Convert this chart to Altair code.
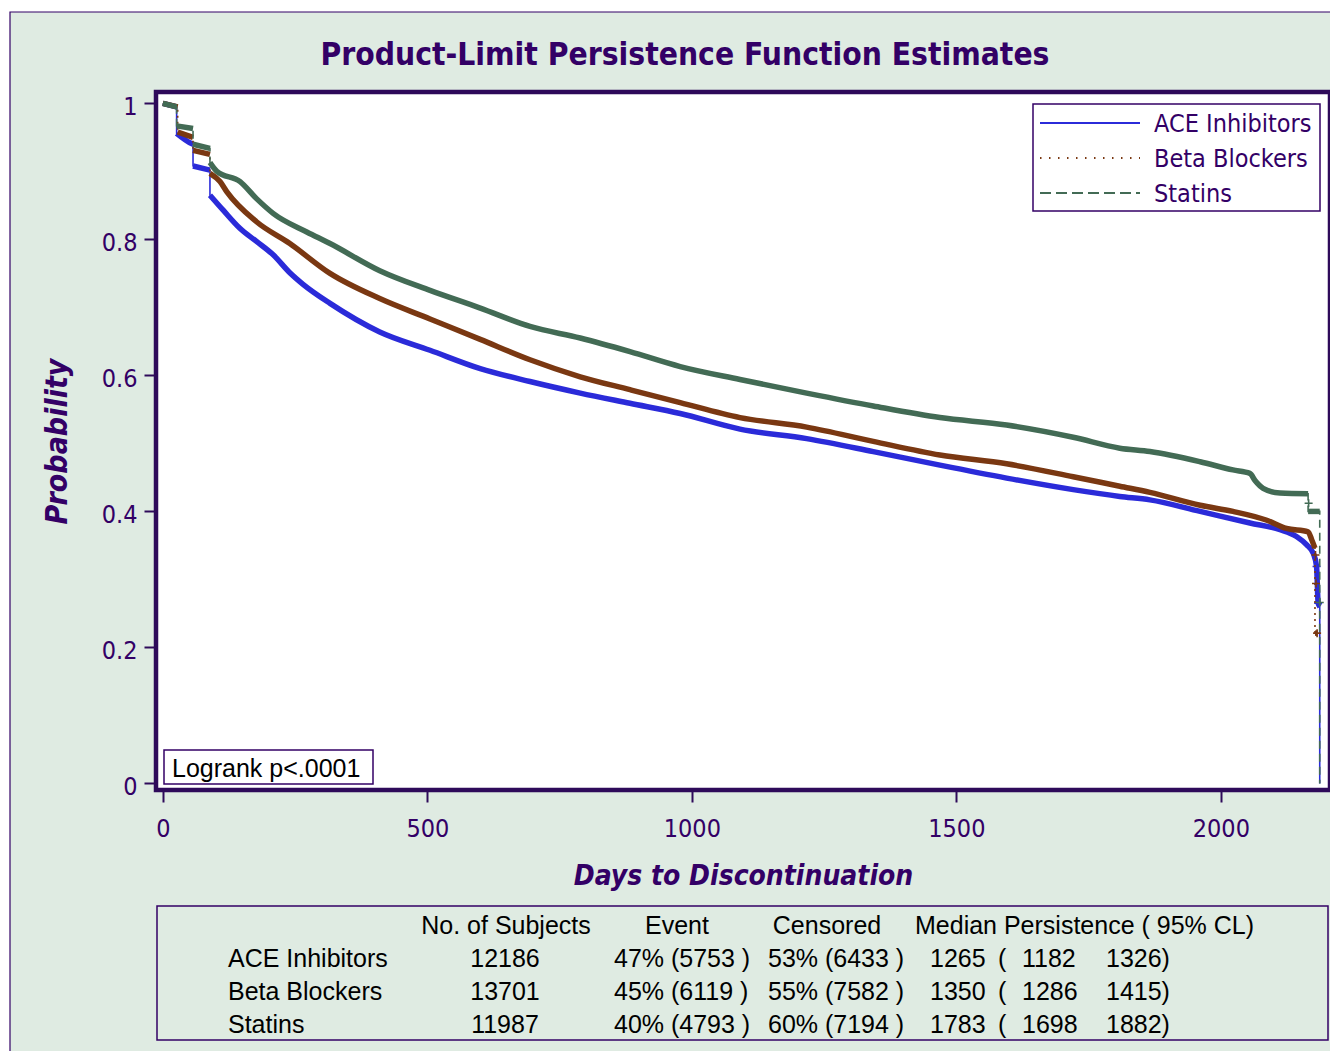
import altair as alt
import pandas as pd

# ---------------- data ----------------
series_names = ["ACE Inhibitors", "Beta Blockers", "Statins"]
series_colors = ["#2b2bd9", "#7a3812", "#436b55"]
series_dashes = [[1, 0], [2, 4], [8, 5]]
legend_dashes = [[1, 0], [1.5, 7.5], [11, 5]]

ace_days = [0, 26, 26, 54, 57, 57, 89, 89, 114, 146, 177, 209, 240, 265, 316, 410, 505, 600, 694, 789,
            883, 978, 1091, 1217, 1343, 1469, 1595, 1721, 1809, 1866, 1961, 2055, 2112, 2143, 2162, 2175,
            2181, 2184, 2187, 2187]
ace_surv = [1.0, 0.995, 0.956, 0.941, 0.940, 0.908, 0.902, 0.865, 0.843, 0.816, 0.797, 0.777, 0.751, 0.734,
            0.706, 0.664, 0.637, 0.610, 0.591, 0.574, 0.559, 0.544, 0.521, 0.507, 0.488, 0.468, 0.449, 0.432,
            0.422, 0.417, 0.400, 0.383, 0.373, 0.363, 0.351, 0.338, 0.319, 0.265, 0.260, 0.0]

bb_days = [0, 28, 28, 57, 57, 89, 89, 108, 121, 177, 240, 316, 410, 505, 600, 694, 789, 883, 978, 1091,
           1217, 1343, 1469, 1595, 1721, 1809, 1866, 1961, 2023, 2087, 2124, 2165, 2172, 2178, 2178, 2183]
bb_surv = [1.0, 0.995, 0.958, 0.950, 0.931, 0.925, 0.897, 0.885, 0.870, 0.826, 0.794, 0.750, 0.713, 0.683,
           0.653, 0.623, 0.598, 0.579, 0.560, 0.538, 0.524, 0.503, 0.483, 0.470, 0.451, 0.437, 0.428, 0.409,
           0.400, 0.387, 0.375, 0.370, 0.358, 0.346, 0.221, 0.221]

st_days = [0, 26, 26, 57, 57, 89, 89, 102, 146, 177, 209, 272, 316, 410, 505, 600, 694, 789, 883, 978,
           1091, 1217, 1343, 1469, 1595, 1721, 1809, 1866, 1961, 2023, 2055, 2065, 2080, 2112, 2165, 2165,
           2187, 2187]
st_surv = [1.0, 0.995, 0.967, 0.963, 0.940, 0.934, 0.913, 0.900, 0.885, 0.860, 0.838, 0.811, 0.794, 0.754,
           0.725, 0.699, 0.672, 0.655, 0.635, 0.613, 0.594, 0.574, 0.555, 0.538, 0.527, 0.509, 0.493, 0.488,
           0.473, 0.461, 0.456, 0.445, 0.434, 0.427, 0.426, 0.400, 0.400, 0.0]

cens_series = ["ACE Inhibitors", "ACE Inhibitors", "Beta Blockers", "Beta Blockers", "Beta Blockers",
               "Statins", "Statins"]
cens_days = [2181, 2184, 2179, 2180, 2182, 2166, 2187]
cens_surv = [0.319, 0.265, 0.336, 0.294, 0.221, 0.412, 0.266]

x_ticks = [0, 500, 1000, 1500, 2000]
y_ticks = [0, 0.2, 0.4, 0.6, 0.8, 1]

n_subjects = [12186, 13701, 11987]
event_pct = [47, 45, 40]
event_n = [5753, 6119, 4793]
cens_pct = [53, 55, 60]
cens_n = [6433, 7582, 7194]
median_days = [1265, 1350, 1783]
median_lcl = [1182, 1286, 1698]
median_ucl = [1326, 1415, 1882]

title_text = "Product-Limit Persistence Function Estimates"
x_title = "Days to Discontinuation"
y_title = "Probability"
logrank_text = "Logrank p<.0001"
table_headers = ["No. of Subjects", "Event", "Censored", "Median Persistence ( 95% CL)"]

# ---------------- style ----------------
PURPLE = "#330066"
FRAME = "#2e0a5a"
BG = "#dfebe2"
FONT = "DejaVu Sans Condensed, DejaVu Sans"
TFONT = "Liberation Sans, Arial"
TSIZE = 25
W, H = 1174, 698
x_dom = [-13.0, 2206.4]
y_dom = [-0.0097, 1.0168]

# ---------------- build tables ----------------
rows = []
for name, days, surv in zip(series_names, [ace_days, bb_days, st_days], [ace_surv, bb_surv, st_surv]):
    seg = 0
    for i, (t, s) in enumerate(zip(days, surv)):
        if i > 0 and t == days[i - 1]:
            seg += 1
        rows.append({"series": name, "day": t, "surv": s, "seg": seg, "idx": i})
df = pd.DataFrame(rows)
cens_df = pd.DataFrame({"series": cens_series, "day": cens_days, "surv": cens_surv})

color_scale = alt.Scale(domain=series_names, range=series_colors)
dash_scale = alt.Scale(domain=series_names, range=series_dashes)

x_enc = alt.X("day:Q", scale=alt.Scale(domain=x_dom, nice=False, zero=False),
              axis=alt.Axis(values=x_ticks, format="d", title=x_title, titleY=86,
                            titleBaseline="middle", labelPadding=14, labelFlush=False, zindex=1))
y_enc = alt.Y("surv:Q", scale=alt.Scale(domain=y_dom, nice=False, zero=False),
              axis=alt.Axis(values=y_ticks, format="~g", title=y_title, titleX=-99,
                            titleFontSize=30, titleBaseline="middle", labelPadding=7,
                            labelOffset=3, zindex=1))

one = pd.DataFrame({"k": [0]})


def deco():
    return alt.Chart(one)


layers = []
# white page strips and figure border
layers.append(deco().mark_rect(fill="white").encode(
    x=alt.value(-150), x2=alt.value(-146), y=alt.value(-90), y2=alt.value(1000)))
layers.append(deco().mark_rect(fill="white").encode(
    x=alt.value(-150), x2=alt.value(1250), y=alt.value(-90), y2=alt.value(-80)))
layers.append(deco().mark_rect(fill=None, stroke=PURPLE, strokeWidth=1.2).encode(
    x=alt.value(-146), x2=alt.value(1250), y=alt.value(-80), y2=alt.value(1050)))

# curves
for name in series_names:
    sub = alt.Chart(df).transform_filter(alt.datum.series == name)
    layers.append(sub.mark_line(strokeWidth=5.5, interpolate="monotone").encode(
        x=x_enc, y=y_enc, detail="seg:N", order="idx:Q",
        color=alt.Color("series:N", scale=color_scale, legend=None)))
    layers.append(sub.mark_line(strokeWidth=1.6, interpolate="linear").encode(
        x=x_enc, y=y_enc, order="idx:Q",
        color=alt.Color("series:N", scale=color_scale, legend=None),
        strokeDash=alt.StrokeDash("series:N", scale=dash_scale, legend=None)))
    layers.append(alt.Chart(cens_df).transform_filter(alt.datum.series == name).mark_point(
        shape="M-1,0H1M0,-1V1", size=64, filled=False, strokeWidth=1.6, opacity=1).encode(
        x=x_enc, y=y_enc, color=alt.Color("series:N", scale=color_scale, legend=None)))

# title
layers.append(deco().mark_text(font=FONT, fontSize=31.5, fontWeight="bold", color=PURPLE,
                               align="center", baseline="middle").encode(
    x=alt.value(529), y=alt.value(-36), text=alt.value(title_text)))

# legend
layers.append(deco().mark_rect(fill="white", stroke=PURPLE, strokeWidth=1.5).encode(
    x=alt.value(877), x2=alt.value(1164), y=alt.value(12), y2=alt.value(119)))
for i, name in enumerate(series_names):
    yy = 31 + 35 * i
    layers.append(deco().mark_rule(color=series_colors[i], strokeWidth=2,
                                   strokeDash=legend_dashes[i]).encode(
        x=alt.value(884), x2=alt.value(984), y=alt.value(yy)))
    layers.append(deco().mark_text(font=FONT, fontSize=25, color=PURPLE, align="left",
                                   baseline="middle").encode(
        x=alt.value(998), y=alt.value(yy + 1), text=alt.value(name)))

# logrank box
layers.append(deco().mark_rect(fill="white", stroke=PURPLE, strokeWidth=1.5).encode(
    x=alt.value(8), x2=alt.value(217), y=alt.value(658), y2=alt.value(692)))
layers.append(deco().mark_text(font=TFONT, fontSize=TSIZE, color="black", align="left",
                               baseline="middle").encode(
    x=alt.value(16), y=alt.value(677), text=alt.value(logrank_text)))

# summary table
layers.append(deco().mark_rect(fill=None, stroke=PURPLE, strokeWidth=1.5).encode(
    x=alt.value(1), x2=alt.value(1172), y=alt.value(814), y2=alt.value(948)))


def tcol(text, x, align, y=875):
    return deco().mark_text(font=TFONT, fontSize=TSIZE, color="black", align=align,
                            baseline="alphabetic", lineBreak="\n", lineHeight=33).encode(
        x=alt.value(x), y=alt.value(y), text=alt.value(text))


layers.append(tcol(table_headers[0], 350, "center", 842))
layers.append(tcol(table_headers[1], 521, "center", 842))
layers.append(tcol(table_headers[2], 671, "center", 842))
layers.append(tcol(table_headers[3], 759, "left", 842))
layers.append(tcol("\n".join(series_names), 72, "left"))
layers.append(tcol("\n".join(str(v) for v in n_subjects), 349, "center"))
layers.append(tcol("\n".join(f"{p}% ({n} )" for p, n in zip(event_pct, event_n)), 458, "left"))
layers.append(tcol("\n".join(f"{p}% ({n} )" for p, n in zip(cens_pct, cens_n)), 612, "left"))
layers.append(tcol("\n".join(str(v) for v in median_days), 774, "left"))
layers.append(tcol("\n".join("(" for _ in median_days), 842, "left"))
layers.append(tcol("\n".join(str(v) for v in median_lcl), 866, "left"))
layers.append(tcol("\n".join(f"{v})" for v in median_ucl), 950, "left"))

chart = alt.layer(*layers).properties(
    width=W, height=H,
    padding={"left": 148, "top": 84, "right": 0, "bottom": 261},
    autosize=alt.AutoSizeParams(type="none"),
).configure(background=BG).configure_view(
    stroke=FRAME, strokeWidth=4.5, fill="white"
).configure_axis(
    domain=False, grid=False, ticks=True, tickColor=FRAME, tickWidth=2, tickSize=12,
    labelColor=PURPLE, labelFont=FONT, labelFontSize=25,
    titleColor=PURPLE, titleFont=FONT, titleFontSize=28, titleFontWeight="bold",
    titleFontStyle="italic",
)

chart.save("out.html", embed_options={"renderer": "svg", "actions": False})
